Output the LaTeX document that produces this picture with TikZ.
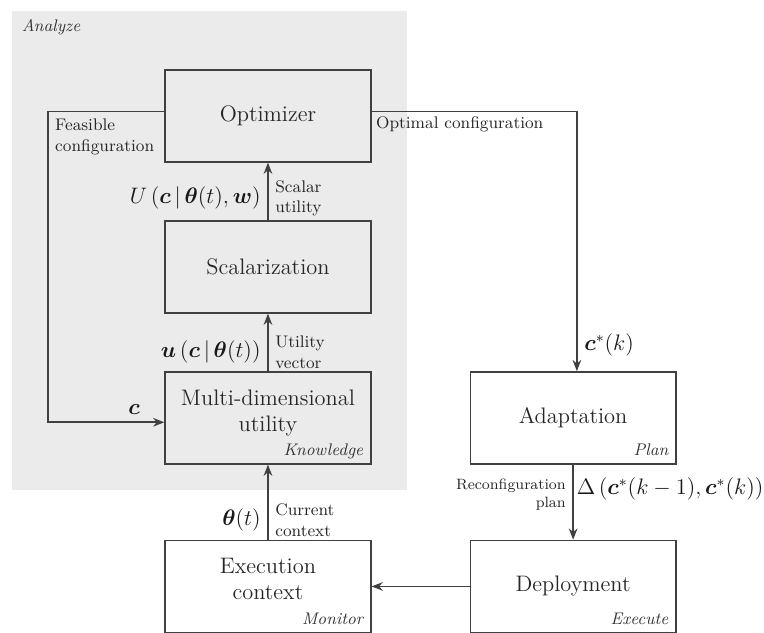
\documentclass[tikz,border=0pt]{standalone}
\usepackage{amsmath}
\usetikzlibrary{positioning,arrows.meta,backgrounds}
\tikzset{
  mape/.style={>={Stealth[length=6pt,width=4.6pt]},node distance=2.84cm,on grid},
  block/.style={draw=black!75,line width=0.8pt,minimum width=3.87cm,minimum height=1.73cm,
    align=center,font=\large,text=black!85},
  twoline/.style={text depth=8pt},
  flow/.style={->,draw=black!75,line width=0.9pt},
  note/.style={font=\small,align=left,text=black!85,inner sep=3.5pt},
  formula/.style={font=\large,text=black!90,inner sep=3.5pt},
  phase/.style={font=\small\itshape,text=black!80,anchor=base east,inner sep=0pt,xshift=-4.3pt,yshift=4.8pt},
  region/.style={font=\small\itshape,text=black!80,anchor=base west,inner sep=0pt,xshift=5.3pt,yshift=-11.2pt},
}

\begin{document}
\begin{tikzpicture}[mape]
  \useasboundingbox (-5.04,2.18) rectangle (9.33,-9.71);
  \node[block] (opt) {Optimizer};
  \node[block] (scal) [below=of opt] {Scalarization};
  \node[block,twoline] (mdu) [below=of scal] {Multi-dimensional\\utility};
  \node[block,twoline] (exec) [below=3.17cm of mdu] {Execution\\context};
  \node[block] (adapt) [right=5.74cm of mdu] {Adaptation};
  \node[block] (deploy) [below=3.17cm of adapt] {Deployment};
  \node[phase] at (mdu.south east) {Knowledge};
  \node[phase] at (adapt.south east) {Plan};
  \node[phase] at (deploy.south east) {Execute};
  \node[phase] at (exec.south east) {Monitor};
  \coordinate (fb) at (-4.14,-3);
  % shaded analyze part
  \begin{scope}[on background layer]
    \fill[black!8] (-4.82,1.975) coordinate (bg) rectangle (2.61,-7.035);
  \end{scope}
  \node[region] at (bg) {Analyze};
  \draw[flow] (scal) -- node[pos=0.38,formula,left]{$U\left(\boldsymbol{c}\,\middle|\,\boldsymbol{\theta}(t),\boldsymbol{w}\right)$}
    node[pos=0.38,note,right]{Scalar\\utility} (opt);
  \draw[flow] (mdu) -- node[pos=0.33,formula,left]{$\boldsymbol{u}\left(\boldsymbol{c}\,\middle|\,\boldsymbol{\theta}(t)\right)$}
    node[pos=0.33,note,right]{Utility\\vector} (scal);
  \draw[flow] (exec) -- node[pos=0.26,formula,left]{$\boldsymbol{\theta}(t)$}
    node[pos=0.26,note,right]{Current\\context} (mdu);
  \draw[flow] ([yshift=2.3pt]opt.west) -| node[pos=0.5,note,anchor=north west]{Feasible\\configuration} (fb)
    |- node[pos=0.87,formula,above]{$\boldsymbol{c}$} ([yshift=-2.35pt]mdu.west);
  \draw[flow] ([yshift=2.3pt]opt.east) -| node[pos=0,note,anchor=north west,inner sep=2pt]{Optimal configuration}
    node[pos=0.95,formula,right]{$\boldsymbol{c}^*(k)$} ([xshift=2pt]adapt.north);
  \draw[flow] (adapt) -- node[pos=0.4,note,left,align=right,font=\footnotesize]{Reconfiguration\\plan}
    node[pos=0.32,formula,right,inner sep=1.5pt]{$\Delta\left(\boldsymbol{c}^*(k-1),\boldsymbol{c}^*(k)\right)$} (deploy);
  \draw[flow] (deploy) -- (exec);
\end{tikzpicture}
\end{document}
